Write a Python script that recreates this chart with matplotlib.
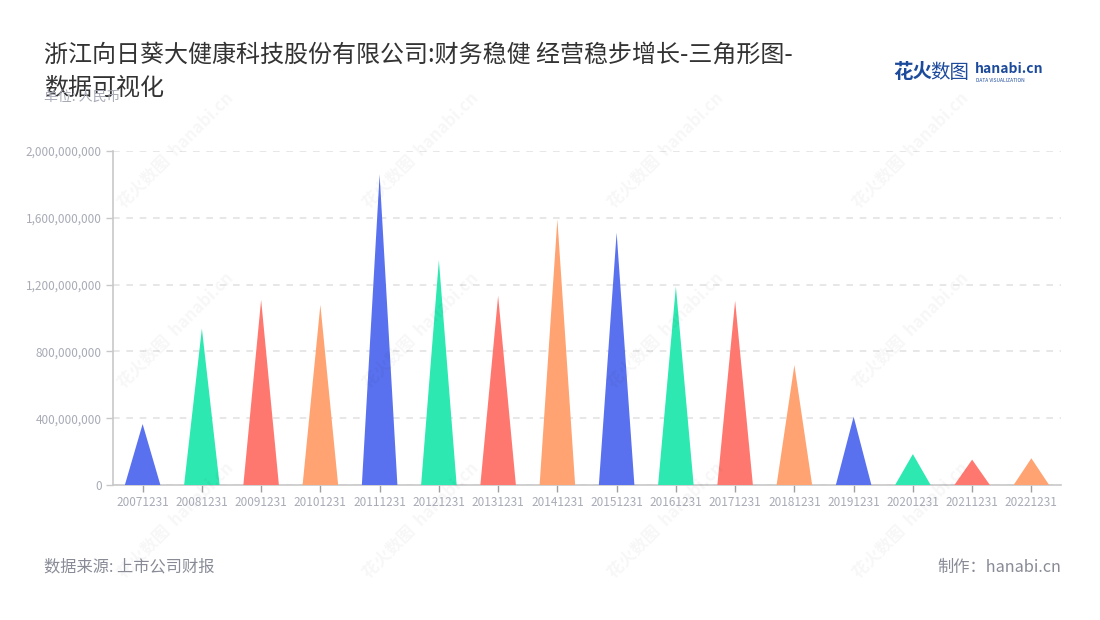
import matplotlib
matplotlib.use("Agg")
import matplotlib.pyplot as plt
from matplotlib.patches import Polygon
from matplotlib.ticker import FuncFormatter

plt.rcParams['font.family'] = ['Noto Sans CJK SC', 'DejaVu Sans']

# dane
dates = ['20071231', '20081231', '20091231', '20101231', '20111231', '20121231',
         '20131231', '20141231', '20151231', '20161231', '20171231', '20181231',
         '20191231', '20201231', '20211231', '20221231']
values = [365e6, 937e6, 1109e6, 1079e6, 1860e6, 1346e6, 1133e6, 1591e6,
          1511e6, 1188e6, 1103e6, 718e6, 409e6, 185e6, 152e6, 160e6]
palette = ['#5971EE', '#2EE8B1', '#FF7870', '#FFA372']

fig = plt.figure(figsize=(11, 6.2), dpi=100)
ax = fig.add_axes([113 / 1100, 1 - 485 / 620, (1061 - 113) / 1100, (485 - 151) / 620])

half = 0.3
for i, v in enumerate(values):
    tri = Polygon([(i - half, 0), (i, v), (i + half, 0)], closed=True,
                  facecolor=palette[i % 4], edgecolor='none', zorder=3)
    ax.add_patch(tri)

ax.set_xlim(-0.5, len(dates) - 0.5)
ax.set_ylim(0, 2e9)
ax.set_xticks(range(len(dates)))
ax.set_xticklabels(dates)
ax.set_yticks([0, 4e8, 8e8, 12e8, 16e8, 20e8])
ax.yaxis.set_major_formatter(FuncFormatter(lambda v, p: f'{int(v):,}'))
ax.grid(axis='y', linestyle=(0, (4, 4)), color='#E3E3E3', linewidth=1.2, zorder=0)

for s in ['top', 'right']:
    ax.spines[s].set_visible(False)
for s in ['left', 'bottom']:
    ax.spines[s].set_color('#C8C8C8')
    ax.spines[s].set_linewidth(1.2)
ax.tick_params(axis='x', color='#A0A0A0', labelsize=8.5, length=5, width=1, pad=3, labelcolor='#A8ABB6')
ax.tick_params(axis='y', color='#C8C8C8', labelsize=8.5, length=5, width=1, pad=3, labelcolor='#A8ABB6')

# znaki wodne
for wx in [175, 420, 665, 910]:
    for wy in [150, 330, 520]:
        fig.text(wx / 1100, 1 - wy / 620, '花火数图  hanabi.cn', rotation=45,
                 fontsize=12, color='#000000', alpha=0.035, ha='center', va='center',
                 fontweight='bold')

fig.text(44 / 1100, 1 - 55 / 620, '浙江向日葵大健康科技股份有限公司:财务稳健 经营稳步增长-三角形图-',
         fontsize=17.3, color='#333333', ha='left', va='center')
fig.text(44 / 1100, 1 - 88 / 620, '数据可视化', fontsize=17.3, color='#333333', ha='left', va='center')
fig.text(44 / 1100, 1 - 97 / 620, '单位: 人民币', fontsize=10, color='#A8ABB6', ha='left', va='center')

fig.text(44 / 1100, 1 - 567 / 620, '数据来源: 上市公司财报', fontsize=11.7, color='#888B96', ha='left', va='center')
fig.text(1061 / 1100, 1 - 567 / 620, '制作：hanabi.cn', fontsize=11.7, color='#888B96', ha='right', va='center')

# logo
fig.text(893 / 1100, 1 - 72 / 620, '花火', fontsize=14, color='#1D4B9C', fontweight='bold', ha='left', va='center')
fig.text(930 / 1100, 1 - 72 / 620, '数图', fontsize=14, color='#1D4B9C', ha='left', va='center')
fig.text(975 / 1100, 1 - 69 / 620, 'hanabi.cn', fontsize=10, color='#1D4B9C', fontweight='bold', ha='left', va='center')
fig.text(976 / 1100, 1 - 80 / 620, 'DATA VISUALIZATION', fontsize=3.5, color='#1D4B9C', ha='left', va='center')

fig.savefig('out.png', dpi=100, facecolor='white')
